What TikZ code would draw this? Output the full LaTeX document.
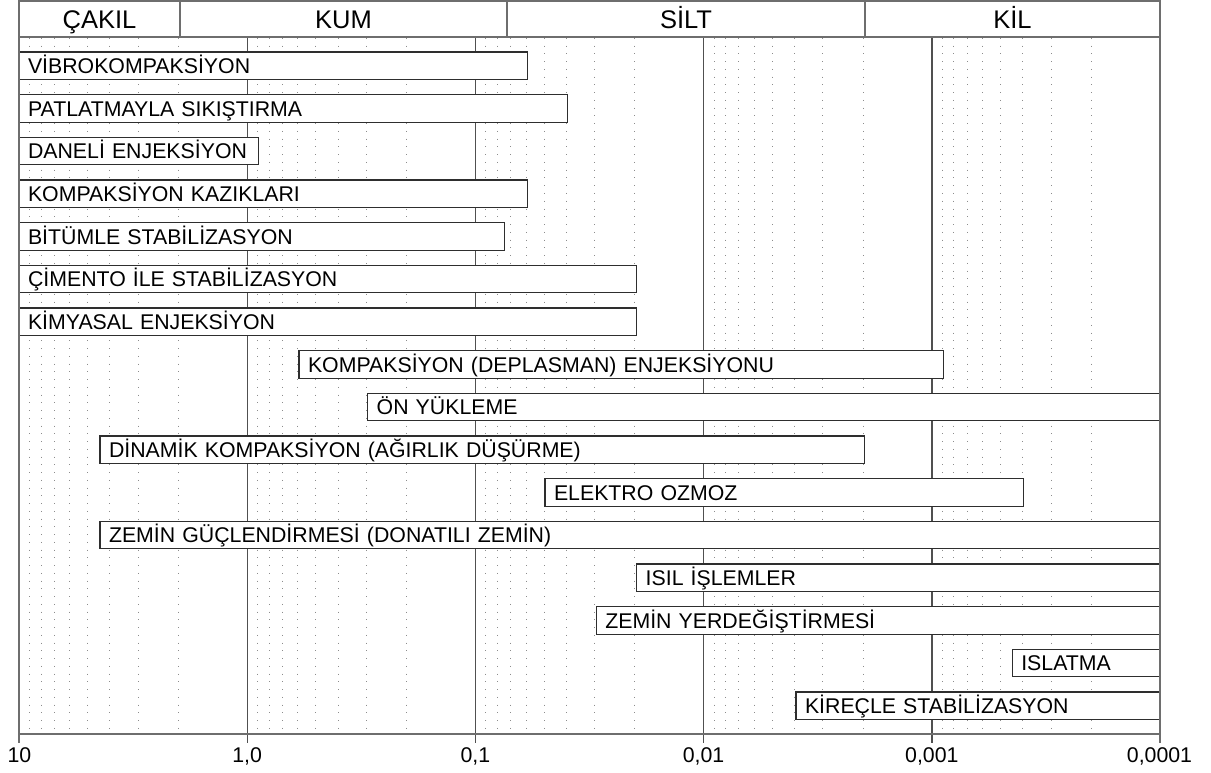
\documentclass[tikz,border=0pt]{standalone}
\usepackage{fontspec}
\setmainfont{Liberation Sans}
\definecolor{framec}{HTML}{6E6E6E}
\definecolor{decc}{HTML}{505050}
\definecolor{dotc}{HTML}{8C8C8C}
\definecolor{barc}{HTML}{2E2E2E}
\tikzset{
  gridline/.style={draw=dotc, line width=1pt, dash pattern=on 1pt off 6.75pt},
  decade/.style={draw=decc, line width=1.4pt},
  framel/.style={draw=framec, line width=2pt},
  barbox/.style={draw=barc, line width=1.2pt, fill=white, anchor=north west,
    minimum height=27.5pt, inner xsep=9pt, inner ysep=0pt, outer sep=0pt,
    align=left, text height=15.2pt, text depth=0pt,
    font=\fontsize{21.3}{25}\selectfont},
  headlabel/.style={inner sep=0pt, text height=18.2pt, text depth=0pt,
    font=\fontsize{25.5}{29}\selectfont},
  axislabel/.style={inner sep=0pt, text height=15.3pt, text depth=0pt,
    font=\fontsize{21.3}{25}\selectfont}
}
\begin{document}
\begin{tikzpicture}[x=1pt,y=-1pt]
\useasboundingbox (0,0) rectangle (1211,773);
% dotted minor grid
\foreach \k in {0,...,4}{
  \foreach \m in {2,...,9}{
    \pgfmathsetmacro\xx{19+228.2*(\k+1-log10(\m))}
    \draw[gridline] (\xx,38) -- (\xx,734);
  }
}
% decade lines
\foreach \k in {1,...,4}{
  \pgfmathsetmacro\xx{19+228.2*\k}
  \draw[decade] (\xx,37.3) -- (\xx,743);
}
% bars
\foreach \nm/\a/\b/\r/\t in {
  b1/19/527.5/1/VİBROKOMPAKSİYON,
  b2/19/567.5/2/PATLATMAYLA SIKIŞTIRMA,
  b3/19/258.3/3/DANELİ ENJEKSİYON,
  b4/19/527.5/4/KOMPAKSİYON KAZIKLARI,
  b5/19/504.3/5/BİTÜMLE STABİLİZASYON,
  b6/19/636.5/6/ÇİMENTO İLE STABİLİZASYON,
  b7/19/636.5/7/KİMYASAL ENJEKSİYON,
  b8/299/943.3/8/KOMPAKSİYON (DEPLASMAN) ENJEKSİYONU,
  b9/367.7/1160/9/ÖN YÜKLEME,
  b10/100/864.3/10/DİNAMİK KOMPAKSİYON (AĞIRLIK DÜŞÜRME),
  b11/545/1023.7/11/ELEKTRO OZMOZ,
  b12/100/1160/12/ZEMİN GÜÇLENDİRMESİ (DONATILI ZEMİN),
  b13/636.7/1160/13/ISIL İŞLEMLER,
  b14/596.3/1160/14/ZEMİN YERDEĞİŞTİRMESİ,
  b15/1012.3/1160/15/ISLATMA,
  b16/796/1160/16/KİREÇLE STABİLİZASYON}{
  \pgfmathsetmacro\ww{\b-\a}
  \pgfmathsetmacro\tw{\b-\a-18}
  \pgfmathsetmacro\yy{52+42.67*(\r-1)}
  \node[barbox, minimum width=\ww pt, text width=\tw pt] (\nm) at (\a,\yy) {\t};
}
% header
\draw[framel] (19,1) rectangle (1160,37.3);
\draw[framel] (180,1) -- (180,37.3);
\draw[framel] (507,1) -- (507,37.3);
\draw[framel] (865,1) -- (865,37.3);
\node[headlabel] (h1) at (99.5,19.3) {ÇAKIL};
\node[headlabel] (h2) at (343.5,19.3) {KUM};
\node[headlabel] (h3) at (686,19.3) {SİLT};
\node[headlabel] (h4) at (1012.5,19.3) {KİL};
% frame
\draw[framel] (19,37.3) -- (19,743);
\draw[framel] (1160,37.3) -- (1160,743);
\draw[framel] (19,734) -- (1160,734);
% axis labels
\node[axislabel] (l0) at (19.5,754.5) {10};
\node[axislabel] (l1) at (247.2,754.5) {1,0};
\node[axislabel] (l2) at (475.4,754.5) {0,1};
\node[axislabel] (l3) at (703.6,754.5) {0,01};
\node[axislabel] (l4) at (931.8,754.5) {0,001};
\node[axislabel] (l5) at (1159.5,754.5) {0,0001};
\end{tikzpicture}
\end{document}
